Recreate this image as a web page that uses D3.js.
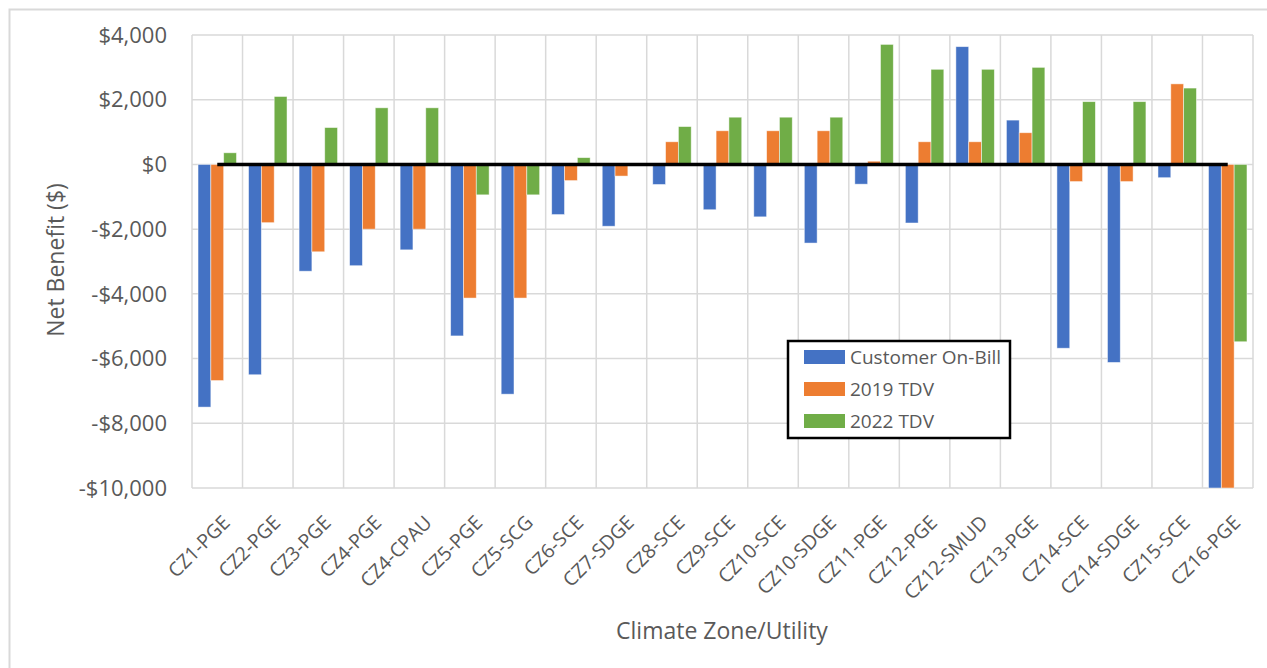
<!DOCTYPE html>
<html>
<head>
<meta charset="utf-8">
<script src="https://cdn.jsdelivr.net/npm/d3@7"></script>
<style>
  body { margin: 0; background: #fff; }
  text { font-family: "Open Sans", sans-serif; fill: #595959; }
</style>
</head>
<body>
<div class="chart"></div>
<script>
const categories = ["CZ1-PGE", "CZ2-PGE", "CZ3-PGE", "CZ4-PGE", "CZ4-CPAU", "CZ5-PGE", "CZ5-SCG",
    "CZ6-SCE", "CZ7-SDGE", "CZ8-SCE", "CZ9-SCE", "CZ10-SCE", "CZ10-SDGE", "CZ11-PGE", "CZ12-PGE",
    "CZ12-SMUD", "CZ13-PGE", "CZ14-SCE", "CZ14-SDGE", "CZ15-SCE", "CZ16-PGE"];
const seriesNames = ["Customer On-Bill", "2019 TDV", "2022 TDV"];
const onBill = [-7500, -6500, -3300, -3130, -2640, -5300, -7100, -1550, -1910, -620, -1400,
    -1620, -2430, -610, -1810, 3640, 1370, -5680, -6120, -410, -10000];
const tdv2019 = [-6680, -1800, -2700, -2000, -2000, -4130, -4130, -500, -360, 700, 1040,
    1040, 1040, 100, 700, 700, 980, -530, -530, 2490, -10000];
const tdv2022 = [360, 2100, 1140, 1750, 1750, -940, -940, 210, 0, 1170, 1460,
    1460, 1460, 3710, 2940, 2940, 3000, 1940, 1940, 2360, -5480];
const yTicks = [4000, 2000, 0, -2000, -4000, -6000, -8000, -10000];
const colors = ["#4472c4", "#ed7d31", "#70ad47"];

const series = [onBill, tdv2019, tdv2022];
const data = categories.map((c, i) => ({cat: c, vals: series.map(s => s[i])}));

const W = 1267, H = 668;
const margin = ({top: 35, right: 14, bottom: 180, left: 192});
const width = W - margin.left - margin.right;
const height = H - margin.top - margin.bottom;

const root = d3.select(".chart").append("svg")
    .attr("width", W)
    .attr("height", H);

// outer chart border
root.append("rect")
    .attr("x", 9.5).attr("y", 9.5)
    .attr("width", W + 20).attr("height", H + 20)
    .attr("fill", "none")
    .attr("stroke", "#d9d9d9")
    .attr("stroke-width", 2);

const svg = root.append("g")
    .attr("transform", `translate(${margin.left},${margin.top})`);

const xScale = d3.scaleBand()
    .domain(categories)
    .range([0, width]);

const xInner = d3.scaleBand()
    .domain(d3.range(3))
    .range([0, xScale.bandwidth()])
    .paddingInner(0)
    .paddingOuter(0.47);

const yScale = d3.scaleLinear()
    .domain([-10000, 4000])
    .range([height, 0]);

// horizontal grid
svg.selectAll(".hgrid")
    .data(yTicks)
    .enter()
    .append("line")
    .attr("x1", 0).attr("x2", width)
    .attr("y1", d => yScale(d)).attr("y2", d => yScale(d))
    .attr("stroke", "#d9d9d9")
    .attr("stroke-width", 1.5);

// vertical grid at category boundaries
const bounds = categories.map(c => xScale(c)).concat([width]);
svg.selectAll(".vgrid")
    .data(bounds)
    .enter()
    .append("line")
    .attr("x1", d => d).attr("x2", d => d)
    .attr("y1", 0).attr("y2", height)
    .attr("stroke", "#d9d9d9")
    .attr("stroke-width", 1.5);

// bars
const groups = svg.selectAll(".cat")
    .data(data)
    .enter()
    .append("g")
    .attr("transform", d => `translate(${xScale(d.cat)},0)`);

groups.selectAll("rect")
    .data(d => d.vals.map((v, k) => ({v, k})))
    .enter()
    .append("rect")
    .filter(d => d.v !== 0)
    .attr("x", d => xInner(d.k))
    .attr("width", xInner.bandwidth())
    .attr("y", d => yScale(Math.max(0, d.v)))
    .attr("height", d => Math.abs(yScale(d.v) - yScale(0)))
    .attr("fill", d => colors[d.k])
    .attr("stroke", "#fff")
    .attr("stroke-opacity", 0.6)
    .attr("stroke-width", 0.8);

// zero reference line from first to last category centre
const half = xScale.bandwidth() / 2;
svg.append("line")
    .attr("x1", xScale(categories[0]) + half)
    .attr("x2", xScale(categories[categories.length - 1]) + half)
    .attr("y1", yScale(0)).attr("y2", yScale(0))
    .attr("stroke", "#000")
    .attr("stroke-width", 3.5);

// y tick labels
svg.selectAll(".ylab")
    .data(yTicks)
    .enter()
    .append("text")
    .attr("x", -25)
    .attr("y", d => yScale(d))
    .attr("dy", "0.35em")
    .attr("text-anchor", "end")
    .attr("font-size", 22)
    .text(d => (d < 0 ? "-$" : "$") + d3.format(",")(Math.abs(d)));

// x tick labels
svg.selectAll(".xlab")
    .data(categories)
    .enter()
    .append("text")
    .attr("transform", d => `translate(${xScale(d) + half + 9},${height + 31}) rotate(-45)`)
    .attr("text-anchor", "end")
    .attr("dy", "0.35em")
    .attr("font-size", 19.5)
    .text(d => d);

// axis titles
svg.append("text")
    .attr("transform", `translate(${56 - margin.left},${260 - margin.top}) rotate(-90)`)
    .attr("text-anchor", "middle")
    .attr("dy", "0.35em")
    .attr("font-size", 23)
    .text("Net Benefit ($)");

svg.append("text")
    .attr("x", 722 - margin.left)
    .attr("y", 631 - margin.top)
    .attr("dy", "0.35em")
    .attr("text-anchor", "middle")
    .attr("font-size", 23)
    .text("Climate Zone/Utility");

// legend
const legend = root.append("g")
    .attr("transform", "translate(788,341)");

legend.append("rect")
    .attr("width", 222).attr("height", 97)
    .attr("fill", "#fff")
    .attr("stroke", "#000")
    .attr("stroke-width", 2.5);

const items = legend.selectAll(".item")
    .data(seriesNames)
    .enter()
    .append("g")
    .attr("transform", (d, i) => `translate(16,${16 + i * 32})`);

items.append("rect")
    .attr("width", 41).attr("height", 14)
    .attr("y", -7)
    .attr("fill", (d, i) => colors[i]);

items.append("text")
    .attr("x", 46)
    .attr("dy", "0.35em")
    .attr("font-size", 19)
    .text(d => d);
</script>
</body>
</html>
